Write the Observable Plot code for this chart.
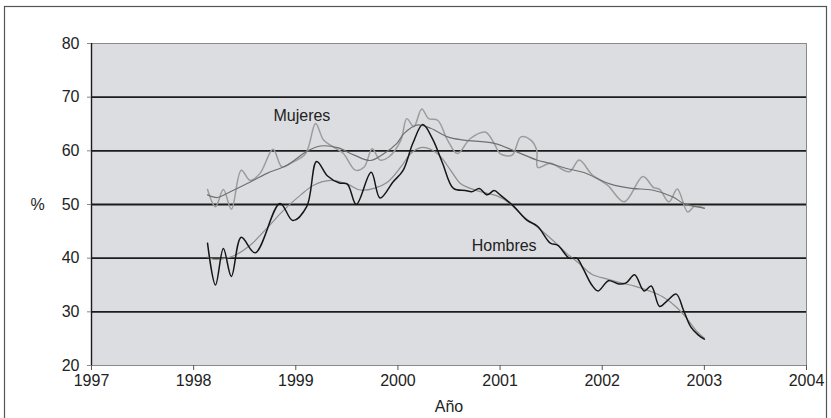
<!DOCTYPE html>
<html>
<head>
<meta charset="utf-8">
<script src="https://cdn.jsdelivr.net/npm/d3@7"></script>
<script src="https://cdn.jsdelivr.net/npm/@observablehq/plot@0.6"></script>
<style>
  html, body { margin: 0; padding: 0; background: #fff; }
  #chart svg { display: block; }
</style>
</head>
<body>
<div id="chart"></div>
<script>
const years = [1997, 1998, 1999, 2000, 2001, 2002, 2003, 2004];
const yTicks = [20, 30, 40, 50, 60, 70, 80];
const gridValues = [30, 40, 50, 60, 70];

const hombres = [
  [1998.136,42.8],[1998.214,35.0],[1998.291,41.8],[1998.369,36.6],[1998.466,43.9],[1998.602,41.0],
  [1998.845,50.2],[1998.971,47.0],[1999.107,49.6],[1999.204,58.0],[1999.311,55.3],[1999.427,54.0],
  [1999.505,53.8],[1999.592,50.0],[1999.738,56.0],[1999.825,51.2],[1999.952,54.2],[2000.049,56.3],
  [2000.146,61.4],[2000.243,64.9],[2000.340,62.2],[2000.437,57.7],[2000.544,53.0],[2000.660,52.6],
  [2000.728,52.4],[2000.796,53.0],[2000.874,51.8],[2000.942,52.6],[2001.000,51.8],[2001.136,49.6],
  [2001.262,47.1],[2001.369,45.9],[2001.492,42.8],[2001.566,42.4],[2001.677,40.0],[2001.751,40.0],
  [2001.812,38.1],[2001.898,35.0],[2001.960,33.9],[2002.062,35.8],[2002.164,35.2],[2002.235,35.4],
  [2002.317,36.9],[2002.409,33.9],[2002.480,34.8],[2002.562,31.0],[2002.633,32.0],[2002.725,33.3],
  [2002.796,30.3],[2002.867,27.2],[2002.939,25.7],[2003.000,24.9]
];
const hombresTendencia = [
  [1998.136,40.2],[1998.194,39.8],[1998.388,40.4],[1998.553,42.4],[1998.718,45.6],[1998.884,49.0],
  [1999.049,51.8],[1999.175,53.6],[1999.340,54.5],[1999.505,53.8],[1999.631,52.7],[1999.767,53.0],
  [1999.893,54.1],[2000.029,57.0],[2000.126,59.5],[2000.223,60.6],[2000.320,60.3],[2000.418,58.9],
  [2000.515,56.4],[2000.612,53.9],[2000.709,53.0],[2000.845,52.2],[2000.971,51.6],[2001.097,50.2],
  [2001.233,47.7],[2001.359,45.9],[2001.529,43.1],[2001.652,40.9],[2001.775,39.0],[2001.898,37.0],
  [2002.052,36.1],[2002.184,35.4],[2002.317,34.8],[2002.460,33.9],[2002.592,32.8],[2002.725,30.9],
  [2002.827,28.8],[2002.929,26.3],[2003.000,25.1]
];
const mujeres = [
  [1998.136,52.8],[1998.214,49.6],[1998.291,52.8],[1998.369,49.1],[1998.466,56.4],[1998.553,54.5],
  [1998.650,55.8],[1998.777,60.3],[1998.864,57.0],[1998.951,57.7],[1999.097,59.5],[1999.194,65.1],
  [1999.272,62.0],[1999.369,60.7],[1999.466,59.5],[1999.583,56.4],[1999.670,57.0],[1999.748,60.4],
  [1999.825,58.3],[1999.913,58.9],[2000.029,62.0],[2000.087,66.0],[2000.155,64.5],[2000.233,67.8],
  [2000.301,66.0],[2000.389,65.7],[2000.486,62.0],[2000.583,59.5],[2000.709,62.3],[2000.855,63.5],
  [2000.942,61.4],[2001.000,59.5],[2001.117,59.2],[2001.204,62.6],[2001.301,62.0],[2001.359,60.1],
  [2001.369,56.9],[2001.492,57.7],[2001.677,56.1],[2001.775,58.3],[2001.898,55.6],[2002.052,53.6],
  [2002.215,50.5],[2002.399,55.2],[2002.501,53.2],[2002.562,52.8],[2002.654,50.5],[2002.735,52.9],
  [2002.837,48.6],[2002.908,49.7],[2003.000,49.3]
];
const mujeresTendencia = [
  [1998.136,51.8],[1998.233,51.3],[1998.330,52.1],[1998.524,53.9],[1998.718,55.8],[1998.913,57.3],
  [1999.117,60.0],[1999.243,60.9],[1999.408,60.6],[1999.573,59.2],[1999.728,58.2],[1999.864,59.5],
  [1999.990,61.4],[2000.058,63.2],[2000.184,64.8],[2000.320,64.2],[2000.486,62.6],[2000.641,62.0],
  [2000.942,61.4],[2001.165,59.8],[2001.359,58.3],[2001.480,57.7],[2001.652,56.7],[2001.812,56.0],
  [2002.082,53.8],[2002.286,53.0],[2002.490,52.7],[2002.694,51.4],[2002.796,50.2],[2003.000,49.3]
];
const seriesLabels = [
  {text: "Mujeres", x: 1999.06, y: 66.5},
  {text: "Hombres", x: 2001.04, y: 42.3}
];
const yAxisTitle = "%";
const xAxisTitle = "Año";

const font = "'Liberation Sans', Arial, Helvetica, sans-serif";
const curve = "catmull-rom";

const chart = Plot.plot({
  width: 831,
  height: 418,
  marginLeft: 91,
  marginRight: 25,
  marginTop: 43,
  marginBottom: 53,
  style: {fontFamily: font, fontSize: "16px", color: "#222", background: "#fff", overflow: "visible"},
  x: {domain: [1997, 2004], ticks: years, tickFormat: d => String(d), label: null},
  y: {domain: [20, 80], ticks: yTicks, label: null},
  marks: [
    Plot.frame({fill: "#dcdde0", stroke: "#8a8a8a", strokeWidth: 1}),
    Plot.ruleY(gridValues, {stroke: "#1c1c1c", strokeWidth: 1.8}),
    Plot.ruleX([1997], {stroke: "#1c1c1c", strokeWidth: 1.4}),
    Plot.line(hombresTendencia, {x: d => d[0], y: d => d[1], stroke: "#8e8e8e", strokeWidth: 1.2, curve}),
    Plot.line(mujeres, {x: d => d[0], y: d => d[1], stroke: "#9c9c9c", strokeWidth: 1.5, curve}),
    Plot.line(mujeresTendencia, {x: d => d[0], y: d => d[1], stroke: "#707070", strokeWidth: 1.2, curve}),
    Plot.line(hombres, {x: d => d[0], y: d => d[1], stroke: "#161616", strokeWidth: 1.5, curve}),
    Plot.text(seriesLabels, {x: "x", y: "y", text: "text", fill: "#222", fontSize: 16}),
    Plot.axisY({ticks: yTicks, tickSize: 4, tickPadding: 8, stroke: "#888", label: null, fontSize: 16}),
    Plot.axisX({ticks: years, tickFormat: d => String(d), tickSize: 5, tickPadding: 4, stroke: "#555", label: null, fontSize: 16}),
    Plot.text([yAxisTitle], {x: 1997, y: 50, text: d => d, dx: -54, fill: "#222", fontSize: 16}),
    Plot.text([xAxisTitle], {x: 2000.5, y: 20, text: d => d, dy: 41, fill: "#222", fontSize: 16})
  ]
});

document.getElementById("chart").appendChild(chart);

// outer chart-area border
d3.select(chart).append("rect")
  .attr("x", 4.5).attr("y", 6.5)
  .attr("width", 822).attr("height", 420)
  .attr("fill", "none").attr("stroke", "#555").attr("stroke-width", 1.2);
</script>
</body>
</html>
